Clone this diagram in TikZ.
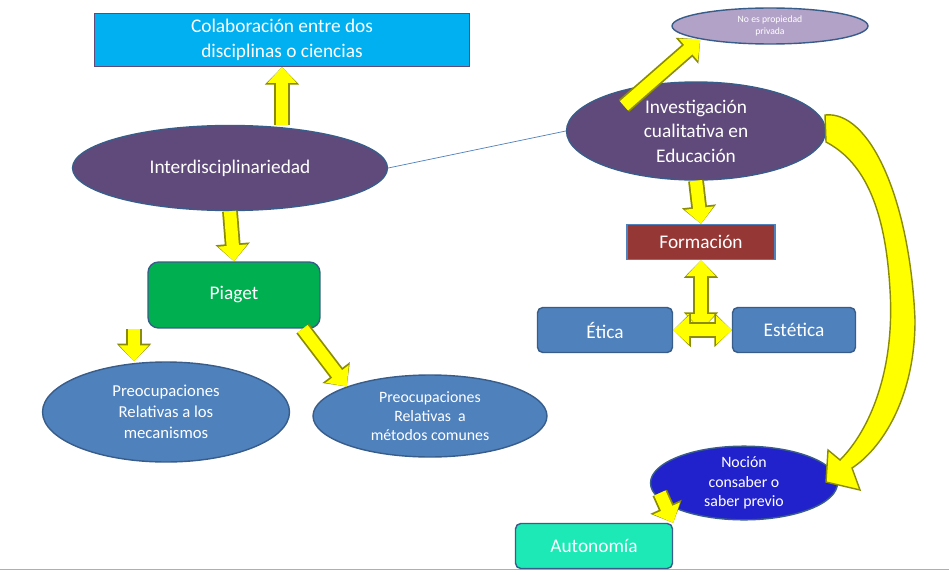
\documentclass[tikz,border=0pt]{standalone}
\usepackage{fontspec}
\setmainfont{Carlito}
\usepackage{tikz}
\usetikzlibrary{positioning,arrows.meta,shapes.geometric}
\definecolor{CieloAzul}{HTML}{00B0F0}
\definecolor{MoradoOsc}{HTML}{604A7B}
\definecolor{Lavanda}{HTML}{B3A2C7}
\definecolor{AzulMedio}{HTML}{4F81BD}
\definecolor{AzulBorde}{HTML}{385D8A}
\definecolor{VerdePiaget}{HTML}{00B050}
\definecolor{RojoForm}{HTML}{953735}
\definecolor{AzulNocion}{HTML}{2222CC}
\definecolor{Turquesa}{HTML}{1DE9B6}
\definecolor{Amarillo}{HTML}{FFFF00}
\definecolor{Oliva}{HTML}{8C8C00}
\tikzset{
  caja/.style={draw=AzulBorde, thick, text=white, align=center},
  elipse/.style={caja, ellipse, inner sep=0pt},
  flecha/.style={line width=7pt, Amarillo, -{Triangle[length=9pt,width=16pt]},
    preaction={draw=Oliva, line width=9pt, -{Triangle[length=10pt,width=19pt]}}},
  dobleflecha/.style={line width=7pt, Amarillo, {Triangle[length=9pt,width=16pt]}-{Triangle[length=9pt,width=16pt]},
    preaction={draw=Oliva, line width=9pt, {Triangle[length=10pt,width=19pt]}-{Triangle[length=10pt,width=19pt]}}}
}
\begin{document}
\begin{tikzpicture}[x=0.02cm, y=-0.02cm, font=\fontsize{11}{14}\selectfont]
  \useasboundingbox (0,0) rectangle (949,571);
  \fill[white] (0,0) rectangle (949,571);
  \draw[AzulMedio!60] (0,569) -- (949,569);
  % nodos izquierda
  \node[caja, fill=CieloAzul, draw=MoradoOsc, minimum width=7.5cm, minimum height=1.04cm] (colab) at (282,40) {Colaboración entre dos\\disciplinas o ciencias};
  \node[elipse, fill=MoradoOsc, minimum width=6.3cm, minimum height=1.7cm] (inter) at (230,168) {Interdisciplinariedad};
  \node[caja, rounded corners=6pt, fill=VerdePiaget, minimum width=3.44cm, minimum height=1.32cm] (piaget) at (234,295) {Piaget};
  \node[elipse, fill=AzulMedio, minimum width=4.94cm, minimum height=2cm, font=\fontsize{9.5}{12}\selectfont] (preoc1) at (166,412) {Preocupaciones\\Relativas a los\\mecanismos};
  \node[elipse, fill=AzulMedio, minimum width=4.68cm, minimum height=1.64cm, font=\fontsize{9}{11}\selectfont] (preoc2) at (430,416) {Preocupaciones\\Relativas \ a\\métodos comunes};
  % nodos derecha
  \node[elipse, fill=Lavanda, minimum width=3.92cm, minimum height=0.72cm, font=\fontsize{5.5}{7}\selectfont] (privada) at (770,26) {No es propiedad\\privada};
  \node[elipse, fill=MoradoOsc, minimum width=5.18cm, minimum height=1.96cm] (invest) at (696,131) {Investigación\\cualitativa en\\Educación};
  \node[caja, fill=RojoForm, draw=AzulMedio, minimum width=2.96cm, minimum height=0.7cm] (form) at (701,242) {Formación};
  \node[caja, rounded corners=3pt, fill=AzulMedio, minimum width=2.7cm, minimum height=0.9cm] (etica) at (605,330) {Ética};
  \node[caja, rounded corners=3pt, fill=AzulMedio, minimum width=2.46cm, minimum height=0.9cm] (estet) at (794,330) {Estética};
  \node[elipse, fill=AzulNocion, minimum width=3.74cm, minimum height=1.3cm, font=\fontsize{9}{11}\selectfont] (nocion) at (744,483) {Noción\\consaber o\\saber previo};
  \node[caja, rounded corners=3pt, fill=Turquesa, minimum width=3.14cm, minimum height=0.9cm] (auton) at (594,546) {Autonomía};
  \coordinate (cruce) at (form.south |- etica);
  % conectores
  \draw[AzulMedio] (inter.east) -- (invest.west);
  \draw[flecha] (inter.north -| colab.south) -- (colab.south);
  \draw[flecha] (inter.south) -- (piaget.north);
  \draw[flecha] (piaget.south -| preoc1.north) ++(-32,0) coordinate (p1) (p1) -- (p1 |- preoc1.north);
  \draw[flecha] (piaget.south east) ++(-18,0) -- (preoc2.north west);
  \draw[flecha] (invest.north west) ++(20,10) -- (privada.south west);
  \draw[flecha] (invest.south) -- (form.north);
  \draw[dobleflecha] (form.south) -- (cruce);
  \draw[dobleflecha] (etica.east) -- (estet.west);
  \draw[flecha] (nocion.west) ++(10,10) -- (auton.north east);
  % flecha curva
  \draw[Oliva, fill=Amarillo, thick] (825,115) .. controls (870,110) and (910,200) .. (915,320)
    .. controls (915,400) and (880,450) .. (852,468) -- (860,490) -- (826,482) -- (828,450) -- (840,460)
    .. controls (870,430) and (895,370) .. (890,290) .. controls (885,200) and (860,160) .. (826,142) -- cycle;
\end{tikzpicture}
\end{document}
